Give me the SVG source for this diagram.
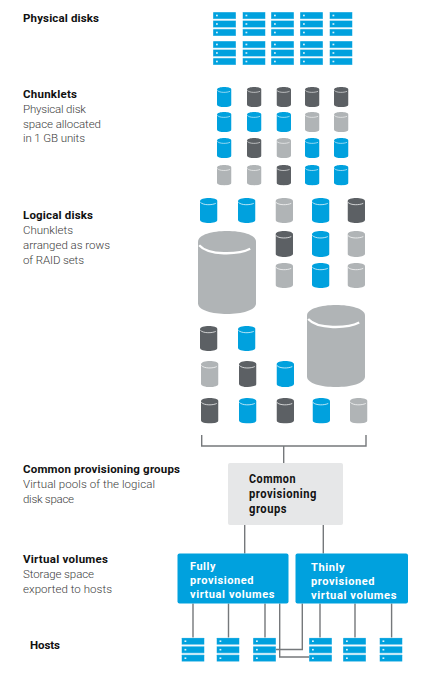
<svg xmlns="http://www.w3.org/2000/svg" width="421" height="673" viewBox="0 0 421 673">
<style>
text{font-family:"Roboto","Liberation Sans",sans-serif;font-size:11.5px;fill:#3c3c3c;font-weight:300}
.h{font-weight:700;fill:#111;font-size:11.5px}
.t{font-weight:700;fill:#111;font-size:13px;letter-spacing:.6px}
.w{font-weight:700;fill:#fff;font-size:11.800px;letter-spacing:.6px}
.b{fill:#00a1de}.d{fill:#5c6064}.g{fill:#b0b4b6}
.c{fill:none;stroke:#75787b;stroke-width:1.4}
</style>
<defs>
<symbol id="cyl" viewBox="0 0 100 140" preserveAspectRatio="none">
<path d="M0,18C0,-6 100,-6 100,18V122C100,146 0,146 0,122Z"/>
<path d="M2,24C18,42 70,40 90,30" fill="none" stroke="#fff" stroke-width="4"/>
</symbol>
<symbol id="stack" viewBox="0 0 23 24">
<g fill="#00a1de" stroke="#cfeaf7" stroke-width=".5">
<rect x="0" y="0" width="23" height="7" rx=".6"/><rect x="0" y="8.500" width="23" height="7" rx=".6"/><rect x="0" y="17" width="23" height="7" rx=".6"/>
</g>
<g fill="#dff3fb"><rect x="3" y="2.700" width="1.800" height="1.600"/><rect x="3" y="11.200" width="1.800" height="1.600"/><rect x="3" y="19.700" width="1.800" height="1.600"/></g>
</symbol>
</defs>

<g id="labels">
<text class="h" x="23" y="22" textLength="76">Physical disks</text>
<text class="h" x="23" y="98" textLength="54">Chunklets</text>
<text x="23" y="113" textLength="63">Physical disk</text>
<text x="23" y="128" textLength="78">space allocated</text>
<text x="23" y="142" textLength="62">in 1 GB units</text>
<text class="h" x="23" y="219" textLength="70">Logical disks</text>
<text x="23" y="234" textLength="50">Chunklets</text>
<text x="23" y="249" textLength="87">arranged as rows</text>
<text x="23" y="264" textLength="61">of RAID sets</text>
<text class="h" x="23" y="473" textLength="157">Common provisioning groups</text>
<text x="23" y="488" textLength="132">Virtual pools of the logical</text>
<text x="23" y="503" textLength="51">disk space</text>
<text class="h" x="23" y="563" textLength="85">Virtual volumes</text>
<text x="23" y="578" textLength="71">Storage space</text>
<text x="23" y="593" textLength="89">exported to hosts</text>
<text class="h" x="30" y="649" textLength="30">Hosts</text>
</g>

<g id="physical-disks">
<use href="#stack" x="213" y="12" width="23" height="24"/><use href="#stack" x="242.500" y="12" width="23" height="24"/><use href="#stack" x="271" y="12" width="23" height="24"/><use href="#stack" x="300" y="12" width="23" height="24"/><use href="#stack" x="329.500" y="12" width="23" height="24"/>
<use href="#stack" x="213" y="41" width="23" height="24"/><use href="#stack" x="242.500" y="41" width="23" height="24"/><use href="#stack" x="271" y="41" width="23" height="24"/><use href="#stack" x="300" y="41" width="23" height="24"/><use href="#stack" x="329.500" y="41" width="23" height="24"/>
</g>

<g id="chunklets">
<use href="#cyl" class="b" x="217" y="87" width="14.500" height="20"/><use href="#cyl" class="d" x="247" y="87" width="14.500" height="20"/><use href="#cyl" class="d" x="276.500" y="87" width="14.500" height="20"/><use href="#cyl" class="d" x="305" y="87" width="14.500" height="20"/><use href="#cyl" class="d" x="334" y="87" width="14.500" height="20"/>
<use href="#cyl" class="b" x="217" y="112" width="14.500" height="20"/><use href="#cyl" class="b" x="247" y="112" width="14.500" height="20"/><use href="#cyl" class="b" x="276.500" y="112" width="14.500" height="20"/><use href="#cyl" class="g" x="305" y="112" width="14.500" height="20"/><use href="#cyl" class="g" x="334" y="112" width="14.500" height="20"/>
<use href="#cyl" class="b" x="217" y="138" width="14.500" height="20"/><use href="#cyl" class="d" x="247" y="138" width="14.500" height="20"/><use href="#cyl" class="g" x="276.500" y="138" width="14.500" height="20"/><use href="#cyl" class="b" x="305" y="138" width="14.500" height="20"/><use href="#cyl" class="b" x="334" y="138" width="14.500" height="20"/>
<use href="#cyl" class="g" x="217" y="165" width="14.500" height="20.500"/><use href="#cyl" class="g" x="247" y="165" width="14.500" height="20.500"/><use href="#cyl" class="d" x="276.500" y="165" width="14.500" height="20.500"/><use href="#cyl" class="b" x="305" y="165" width="14.500" height="20.500"/><use href="#cyl" class="b" x="334" y="165" width="14.500" height="20.500"/>
</g>

<g id="logical-disks">
<use href="#cyl" class="b" x="200" y="198" width="17.500" height="25"/><use href="#cyl" class="b" x="238" y="198" width="17.500" height="25"/><use href="#cyl" class="g" x="275.500" y="198" width="17.500" height="25"/><use href="#cyl" class="b" x="312" y="198" width="17.500" height="25"/><use href="#cyl" class="d" x="347.500" y="198" width="17.500" height="25"/>
<use href="#cyl" class="d" x="275.500" y="231" width="17.500" height="26"/><use href="#cyl" class="b" x="312" y="231" width="17.500" height="26"/><use href="#cyl" class="g" x="347.500" y="231" width="17.500" height="26"/>
<use href="#cyl" class="g" x="275.500" y="263" width="17.500" height="25"/><use href="#cyl" class="b" x="312" y="263" width="17.500" height="25"/><use href="#cyl" class="g" x="347.500" y="263" width="17.500" height="25"/>
<use href="#cyl" class="g" x="198" y="231" width="58" height="83"/>
<use href="#cyl" class="g" x="307" y="305" width="58" height="82"/>
<use href="#cyl" class="d" x="200" y="326" width="17.500" height="25"/><use href="#cyl" class="b" x="238" y="326" width="17.500" height="25"/>
<use href="#cyl" class="g" x="201" y="361" width="17.500" height="26"/><use href="#cyl" class="d" x="239" y="361" width="17.500" height="26"/><use href="#cyl" class="b" x="276.500" y="361" width="17.500" height="26"/>
<use href="#cyl" class="d" x="201" y="398" width="17.500" height="25.500"/><use href="#cyl" class="b" x="239" y="398" width="17.500" height="25.500"/><use href="#cyl" class="d" x="276.500" y="398" width="17.500" height="25.500"/><use href="#cyl" class="b" x="312.500" y="398" width="17.500" height="25.500"/><use href="#cyl" class="g" x="350" y="398" width="17.500" height="25.500"/>
</g>

<g id="connectors">
<path class="c" d="M201.700,435V446H366V435M283.700,446V463"/>
<path class="c" d="M244.700,525V553.500M323.300,525V553.500"/>
<path class="c" d="M193,603.500V637.500M228.500,603.500V637.500M265,603.500V637.500M320,603.500V637.500M355,603.500V637.500M391.600,603.500V637.500"/>
<path class="c" d="M279.700,603.500V657H309M302.300,603.500V649.500H276"/>
</g>

<g id="common-provisioning-groups">
<rect x="228" y="463" width="115" height="62" rx="2" fill="#e6e7e8"/>
<text class="t" x="249" y="483" textLength="47" lengthAdjust="spacingAndGlyphs">Common</text>
<text class="t" x="249" y="498" textLength="68" lengthAdjust="spacingAndGlyphs">provisioning</text>
<text class="t" x="249" y="513" textLength="38" lengthAdjust="spacingAndGlyphs">groups</text>
</g>

<g id="fully-provisioned">
<rect x="177.500" y="553.500" width="111" height="50" rx="2" fill="#00a1de"/>
<text class="w" x="190" y="569.500" textLength="26" lengthAdjust="spacingAndGlyphs">Fully</text>
<text class="w" x="190" y="583.500" textLength="64" lengthAdjust="spacingAndGlyphs">provisioned</text>
<text class="w" x="190" y="597.500" textLength="85" lengthAdjust="spacingAndGlyphs">virtual volumes</text>
</g>

<g id="thinly-provisioned">
<rect x="295.500" y="553.500" width="112.500" height="50" rx="2" fill="#00a1de"/>
<text class="w" x="311" y="570.500" textLength="34" lengthAdjust="spacingAndGlyphs">Thinly</text>
<text class="w" x="311" y="584.500" textLength="64" lengthAdjust="spacingAndGlyphs">provisioned</text>
<text class="w" x="311" y="598.500" textLength="86" lengthAdjust="spacingAndGlyphs">virtual volumes</text>
</g>

<g id="hosts">
<use href="#stack" x="181.500" y="637.700" width="23" height="24"/><use href="#stack" x="216.500" y="637.700" width="23" height="24"/><use href="#stack" x="253" y="637.700" width="23" height="24"/><use href="#stack" x="309" y="637.700" width="23" height="24"/><use href="#stack" x="343" y="637.700" width="23" height="24"/><use href="#stack" x="379.500" y="637.700" width="23" height="24"/>
</g>
</svg>
